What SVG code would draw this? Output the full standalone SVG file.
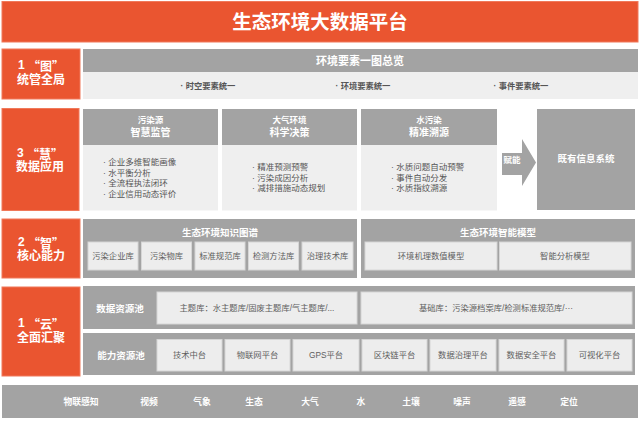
<svg xmlns="http://www.w3.org/2000/svg" width="640" height="423" viewBox="0 0 640 423">
<defs>
<style>
text{font-family:"Liberation Sans","Noto Sans CJK SC",sans-serif;dominant-baseline:central}
.q{font-family:"Noto Sans CJK SC",sans-serif}
.org{fill:#EA5530;stroke:#F0795A;stroke-width:1}
.gray{fill:#A3A3A3}
.light{fill:#EFEFEF}
.sub{fill:#EDEDED;stroke:#D6D6D6;stroke-width:1}
.lbl{fill:#fff;font-size:12px;font-weight:bold;text-anchor:middle}
.hw{fill:#fff;font-weight:bold;text-anchor:middle}
.bul{fill:#555;font-size:8.5px}
.st{fill:#5E5E5E;font-size:8.3px;text-anchor:middle}
.bt{fill:#fff;font-size:8.8px;font-weight:bold;text-anchor:middle}
</style>
</defs>
<rect width="640" height="423" fill="#fff"/>
<g id="title">
<rect class="org" x="2" y="1.5" width="636" height="40.5"/>
<text class="hw" x="320" y="22" font-size="19.5">生态环境大数据平台</text>
</g>
<g id="row-tu">
<rect class="org" x="2" y="49" width="78" height="50"/>
<text class="lbl" x="41" y="65">1 <tspan class="q">“图”</tspan></text>
<text class="lbl" x="41" y="80">统管全局</text>
<rect class="gray" x="83" y="49" width="555" height="23"/>
<rect class="light" x="83" y="72" width="555" height="27"/>
<text class="hw" x="360" y="60.5" font-size="11">环境要素一图总览</text>
<text class="st" x="208" y="86" font-size="9" style="font-weight:bold;fill:#555">· 时空要素统一</text>
<text class="st" x="363" y="86" font-size="9" style="font-weight:bold;fill:#555">· 环境要素统一</text>
<text class="st" x="521" y="86" font-size="9" style="font-weight:bold;fill:#555">· 事件要素统一</text>
</g>
<g id="row-hui">
<rect class="org" x="2" y="108.5" width="77" height="102"/>
<text class="lbl" x="40" y="153">3 <tspan class="q">“慧”</tspan></text>
<text class="lbl" x="40" y="167">数据应用</text>
</g>
<g id="app-pollution">
<rect class="gray" x="83" y="109" width="135" height="36"/>
<rect class="light" x="83" y="145" width="135" height="65.5"/>
<text class="hw" x="150.5" y="120" font-size="8.5">污染源</text>
<text class="hw" x="150.5" y="132.5" font-size="10">智慧监管</text>
<text class="bul" x="103" y="162">· 企业多维智能画像</text>
<text class="bul" x="103" y="172.5">· 水平衡分析</text>
<text class="bul" x="103" y="183">· 全流程执法闭环</text>
<text class="bul" x="103" y="193.5">· 企业信用动态评价</text>
</g>
<g id="app-air">
<rect class="gray" x="222" y="109" width="135" height="36"/>
<rect class="light" x="222" y="145" width="135" height="65.5"/>
<text class="hw" x="289.5" y="120" font-size="8.5">大气环境</text>
<text class="hw" x="289.5" y="132.5" font-size="10">科学决策</text>
<text class="bul" x="252" y="167">· 精准预测预警</text>
<text class="bul" x="252" y="177.5">· 污染成因分析</text>
<text class="bul" x="252" y="188">· 减排措施动态规划</text>
</g>
<g id="app-water">
<rect class="gray" x="361" y="109" width="136" height="36"/>
<rect class="light" x="361" y="145" width="136" height="65.5"/>
<text class="hw" x="429" y="120" font-size="8.5">水污染</text>
<text class="hw" x="429" y="132.5" font-size="10">精准溯源</text>
<text class="bul" x="391" y="167">· 水质问题自动预警</text>
<text class="bul" x="391" y="177.5">· 事件自动分发</text>
<text class="bul" x="391" y="188">· 水质指纹溯源</text>
</g>
<g id="existing-systems">
<rect class="gray" x="537" y="109" width="98" height="101"/>
<text class="hw" x="586" y="158" font-size="9.5">既有信息系统</text>
</g>
<g id="connectors">
<polygon class="gray" points="502,153 522,153 522,139 536,162.5 522,186 522,175 502,175"/>
<text class="hw" x="512" y="160" font-size="8.5">赋能</text>
</g>
<g id="row-zhi">
<rect class="org" x="2" y="219" width="78" height="59"/>
<text class="lbl" x="41" y="242">2 <tspan class="q">“智”</tspan></text>
<text class="lbl" x="41" y="256">核心能力</text>
</g>
<g id="knowledge-graph">
<rect class="gray" x="83" y="219" width="274" height="59"/>
<text class="hw" x="220" y="232" font-size="9.5">生态环境知识图谱</text>
<rect class="sub" x="88" y="242" width="50" height="28"/>
<text class="st" x="113" y="256">污染企业库</text>
<rect class="sub" x="141.5" y="242" width="50" height="28"/>
<text class="st" x="166.5" y="256">污染物库</text>
<rect class="sub" x="195" y="242" width="50" height="28"/>
<text class="st" x="220" y="256">标准规范库</text>
<rect class="sub" x="248.5" y="242" width="50" height="28"/>
<text class="st" x="273.5" y="256">检测方法库</text>
<rect class="sub" x="302" y="242" width="51" height="28"/>
<text class="st" x="327.5" y="256">治理技术库</text>
</g>
<g id="smart-model">
<rect class="gray" x="361" y="219" width="274" height="59"/>
<text class="hw" x="498" y="232" font-size="9.5">生态环境智能模型</text>
<rect class="sub" x="365" y="242" width="132" height="28"/>
<text class="st" x="431" y="256">环境机理数值模型</text>
<rect class="sub" x="499.5" y="242" width="131.5" height="28"/>
<text class="st" x="565" y="256">智能分析模型</text>
</g>
<g id="row-yun">
<rect class="org" x="2" y="287" width="78" height="89"/>
<text class="lbl" x="41" y="323">1 <tspan class="q">“云”</tspan></text>
<text class="lbl" x="41" y="338">全面汇聚</text>
</g>
<g id="data-pool">
<rect class="gray" x="83" y="286" width="552" height="43"/>
<text class="hw" x="120" y="308" font-size="9.5">数据资源池</text>
<rect class="sub" x="157" y="292" width="200" height="32"/>
<text class="st" x="257" y="308" font-size="8">主题库：水主题库/固废主题库/气主题库/...</text>
<rect class="sub" x="361" y="292" width="271" height="32"/>
<text class="st" x="496" y="308" font-size="8">基础库：污染源档案库/检测标准规范库/···</text>
</g>
<g id="capability-pool">
<rect class="gray" x="83" y="333" width="552" height="42"/>
<text class="hw" x="121" y="355" font-size="9.5">能力资源池</text>
<rect class="sub" x="157" y="339.5" width="65" height="31.5"/>
<text class="st" x="189.5" y="355">技术中台</text>
<rect class="sub" x="225" y="339.5" width="65" height="31.5"/>
<text class="st" x="257.5" y="355">物联网平台</text>
<rect class="sub" x="293" y="339.5" width="66" height="31.5"/>
<text class="st" x="326" y="355">GPS平台</text>
<rect class="sub" x="362" y="339.5" width="65" height="31.5"/>
<text class="st" x="394.5" y="355">区块链平台</text>
<rect class="sub" x="430" y="339.5" width="66" height="31.5"/>
<text class="st" x="463" y="355">数据治理平台</text>
<rect class="sub" x="499" y="339.5" width="65" height="31.5"/>
<text class="st" x="531.5" y="355">数据安全平台</text>
<rect class="sub" x="567" y="339.5" width="65" height="31.5"/>
<text class="st" x="599.5" y="355">可视化平台</text>
</g>
<g id="iot-bar">
<rect class="gray" x="2" y="385" width="636" height="33"/>
<text class="bt" x="81" y="402" font-size="9.2">物联感知</text>
<text class="bt" x="149" y="402">视频</text>
<text class="bt" x="202" y="402">气象</text>
<text class="bt" x="254" y="402">生态</text>
<text class="bt" x="310" y="402">大气</text>
<text class="bt" x="361" y="402">水</text>
<text class="bt" x="411" y="402">土壤</text>
<text class="bt" x="462" y="402">噪声</text>
<text class="bt" x="517" y="402">遥感</text>
<text class="bt" x="569" y="402">定位</text>
</g>
</svg>
